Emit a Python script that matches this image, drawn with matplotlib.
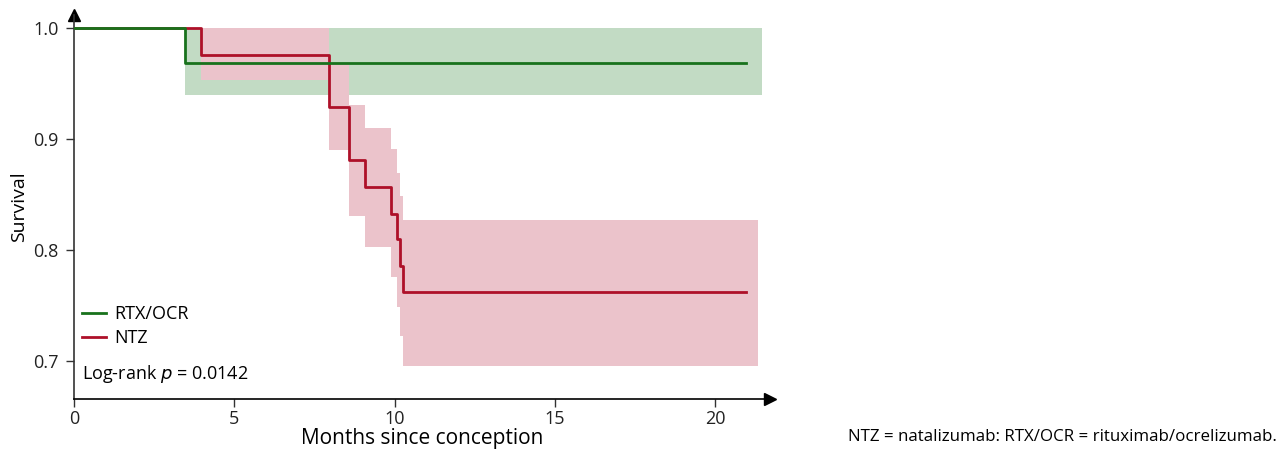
import matplotlib
matplotlib.use("Agg")
import matplotlib.pyplot as plt

plt.rcParams["font.family"] = ["Open Sans", "DejaVu Sans"]

# Kaplan-Meier curves
rtx_t = [0, 3.46, 20.95]
rtx_s = [1.0, 0.969, 0.969]
rtx_ci_t = [3.46, 21.47]
rtx_lo = [0.940, 0.940]
rtx_hi = [1.0, 1.0]

ntz_t = [0, 3.96, 7.95, 8.58, 9.09, 9.88, 10.07, 10.18, 10.26, 20.95]
ntz_s = [1.0, 0.976, 0.929, 0.881, 0.857, 0.833, 0.810, 0.786, 0.762, 0.762]
ntz_ci_t = [3.96, 7.95, 8.58, 9.09, 9.88, 10.07, 10.18, 10.26, 21.32]
ntz_lo = [0.953, 0.890, 0.831, 0.803, 0.776, 0.749, 0.7225, 0.696, 0.696]
ntz_hi = [1.0, 0.968, 0.931, 0.910, 0.891, 0.870, 0.849, 0.827, 0.827]

x_ticks = [0, 5, 10, 15, 20]
y_ticks = [0.7, 0.8, 0.9, 1.0]

green = "#18721c"
green_fill = "#c2dbc4"
red = "#ae1029"
red_fill = "#ebc3cb"

fig = plt.figure(figsize=(12.83, 4.55), dpi=100)
ax = fig.add_axes([0.0577, 0.123, 0.5423, 0.844])

ax.fill_between(rtx_ci_t, rtx_lo, rtx_hi, step="post", color=green_fill, lw=0, zorder=1)
ax.fill_between(ntz_ci_t, ntz_lo, ntz_hi, step="post", color=red_fill, lw=0, zorder=2)
ax.step(ntz_t, ntz_s, where="post", color=red, lw=2, label="NTZ", zorder=3)
ax.step(rtx_t, rtx_s, where="post", color=green, lw=2, label="RTX/OCR", zorder=4)

ax.set_xlim(0, 21.7)
ax.set_ylim(0.666, 1.012)
ax.set_xticks(x_ticks)
ax.set_xticklabels([str(v) for v in x_ticks])
ax.set_yticks(y_ticks)
ax.set_yticklabels([f"{v:.1f}" for v in y_ticks])
ax.tick_params(labelsize=13, length=6, width=1, color="#333333", pad=2,
               labelcolor="#222222")
ax.tick_params(axis="y", pad=5)

for side in ["top", "right"]:
    ax.spines[side].set_visible(False)
ax.spines["left"].set_color("#333333")
ax.spines["bottom"].set_color("black")
ax.spines["left"].set_linewidth(1.2)
ax.spines["bottom"].set_linewidth(1.2)

# arrow heads at the axis ends
ax.plot(1, 0, ">", color="black", markersize=9, transform=ax.transAxes, clip_on=False)
ax.plot(0, 1, "^", color="black", markersize=9, transform=ax.transAxes, clip_on=False)

ax.set_xlabel("Months since conception", fontsize=15, labelpad=0)
ax.set_ylabel("Survival", fontsize=14, labelpad=4)

handles, labels = ax.get_legend_handles_labels()
ax.legend(handles[::-1], labels[::-1], loc="center left", bbox_to_anchor=(0.0115, 0.19),
          frameon=False, fontsize=13, handlelength=1.35, handletextpad=0.45,
          labelspacing=0.35, borderpad=0, borderaxespad=0)

ax.text(0.012, 0.065, "Log-rank $\\it{p}$ = 0.0142", transform=ax.transAxes,
        fontsize=13, va="center", ha="left")

fig.text(0.661, 0.022, "NTZ = natalizumab: RTX/OCR = rituximab/ocrelizumab.",
         fontsize=12.2, ha="left", va="bottom")

fig.savefig("out.png", dpi=100)
